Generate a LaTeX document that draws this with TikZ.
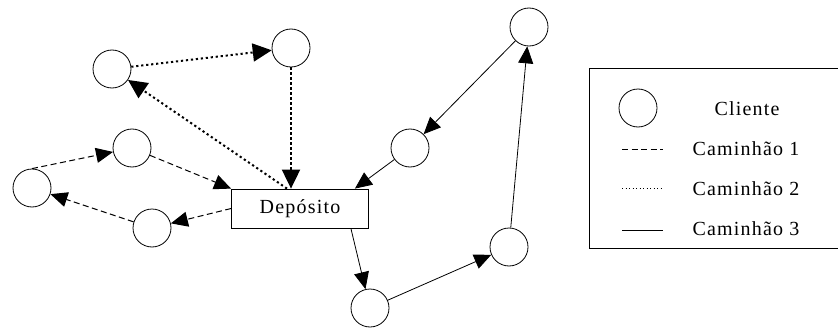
\documentclass[tikz,border=0pt]{standalone}
\usepackage{fontspec}
\setmainfont{Liberation Serif}[LetterSpace=6]
\usetikzlibrary{arrows.meta}
\begin{document}
\begin{tikzpicture}[x=1pt,y=-1pt,
  client/.style={circle,draw,line width=0.8pt,minimum size=38pt,inner sep=0pt},
  depot/.style={rectangle,draw,line width=0.8pt,minimum width=137pt,minimum height=39pt,inner sep=0pt,font=\fontsize{20}{23}\selectfont},
  label/.style={font=\fontsize{20}{23}\selectfont,inner sep=0pt},
  tip/.style={-{Triangle[length=17pt,width=15pt]}},
  bigtip/.style={-{Triangle[length=19pt,width=18pt]}},
  truckA/.style={tip,line width=1pt,dash pattern=on 6pt off 3.5pt},
  truckB/.style={bigtip,line width=2pt,dash pattern=on 2.2pt off 2.8pt},
  truckC/.style={tip,line width=0.8pt}]
\useasboundingbox (0,0) rectangle (838,329);

% depot and clients
\node[depot] (dep) at (300,208.5) {Depósito};
\node[client] (a) at (112,69) {};
\node[client] (b) at (291,48) {};
\node[client] (c) at (132,148) {};
\node[client] (d) at (32,188) {};
\node[client] (e) at (152,228) {};
\node[client] (f) at (370,308) {};
\node[client] (g) at (410,148) {};
\node[client] (h) at (529,27) {};
\node[client] (i) at (509,247) {};

% route of truck 1
\draw[truckA] (dep.west) -- (e);
\draw[truckA] (e) -- (d);
\draw[truckA] (d.north) -- (c);
\draw[truckA] (c) -- (dep.north west);

% route of truck 2
\draw[truckB] ([xshift=-13pt]dep.north) -- (a);
\draw[truckB] (a) -- (b);
\draw[truckB] (b) -- (b |- dep.north);

% route of truck 3
\draw[truckC] ([xshift=-18pt]dep.south east) -- (f);
\draw[truckC] (f) -- (i);
\draw[truckC] (i) -- (h);
\draw[truckC] (h) -- (g);
\draw[truckC] (g) -- ([xshift=-14pt]dep.north east);

% legend frame, running off the right edge
\coordinate (ltr) at (838,68); \coordinate (lbr) at (838,248);
\draw[line width=0.8pt] (ltr) -- (589,68) -- (589,248) -- (lbr);
\node[client] (lc) at (638,108) {};
\node[label] (l0) at (747,109) {Cliente};
\node[label] (l1) at (746,149) {Caminhão 1};
\node[label] (l2) at (746,189) {Caminhão 2};
\node[label] (l3) at (746,229) {Caminhão 3};
\coordinate (s1) at (622,149); \coordinate (e1) at (663,149);
\coordinate (s2) at (622,188); \coordinate (e2) at (663,188);
\coordinate (s3) at (622,230); \coordinate (e3) at (663,230);
\draw[line width=0.8pt,dash pattern=on 6pt off 3.5pt] (s1) -- (e1);
\draw[line width=0.8pt,dash pattern=on 1pt off 2.5pt] (s2) -- (e2);
\draw[line width=0.8pt] (s3) -- (e3);
\end{tikzpicture}
\end{document}
